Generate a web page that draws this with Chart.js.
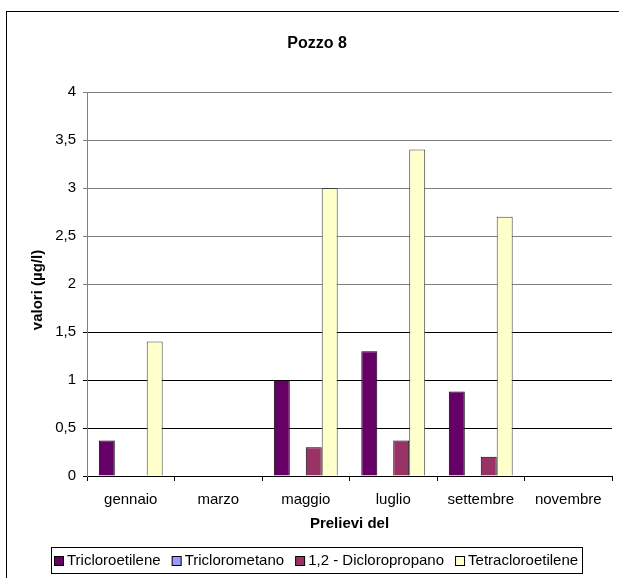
<!DOCTYPE html>
<html>
<head>
<meta charset="utf-8">
<script src="https://cdn.jsdelivr.net/npm/chart.js@4.4.0/dist/chart.umd.min.js"></script>
<style>
html,body{margin:0;padding:0;background:#fff;}
#wrap{width:619px;height:578px;position:relative;}
</style>
</head>
<body>
<div id="wrap"><canvas id="c" width="619" height="578"></canvas></div>
<script>
const categories = ['gennaio', 'marzo', 'maggio', 'luglio', 'settembre', 'novembre'];
const tricloroetilene = [0.37, null, 1.0, 1.3, 0.88, null];
const triclorometano = [null, null, null, null, null, null];
const dicloropropano = [null, null, 0.3, 0.37, 0.2, null];
const tetracloroetilene = [1.4, null, 3.0, 3.4, 2.7, null];
const seriesNames = ['Tricloroetilene', 'Triclorometano', '1,2 - Dicloropropano', 'Tetracloroetilene'];
const yTicks = [0, 0.5, 1, 1.5, 2, 2.5, 3, 3.5, 4];

const FONT = 'Arial, "Liberation Sans", sans-serif';
const FS = 15;

const overlay = {
  id: 'overlay',
  afterDraw(chart) {
    const ctx = chart.ctx;
    const ca = chart.chartArea;
    ctx.save();
    // outer border
    ctx.strokeStyle = '#000';
    ctx.lineWidth = 1;
    ctx.strokeRect(6.5, 11.5, 700, 700);
    // title
    ctx.fillStyle = '#000';
    ctx.font = 'bold 16px ' + FONT;
    ctx.textAlign = 'center';
    ctx.textBaseline = 'middle';
    ctx.fillText('Pozzo 8', 317, 44);
    ctx.font = 'bold ' + FS + 'px ' + FONT;
    // x title
    ctx.fillText('Prelievi del', (ca.left + ca.right) / 2, 524);
    // y title
    ctx.save();
    ctx.translate(38, 290);
    ctx.rotate(-Math.PI / 2);
    ctx.fillText('valori (\u00b5g/l)', 0, 0);
    ctx.restore();
    // legend
    ctx.font = FS + 'px ' + FONT;
    ctx.textAlign = 'left';
    const ds = chart.data.datasets;
    const sq = 9, gap1 = 4, gap2 = 11, padL = 3, padR = 4;
    let total = padL + padR;
    ds.forEach((d, i) => { total += sq + gap1 + ctx.measureText(d.label).width + (i < ds.length - 1 ? gap2 : 0); });
    total = Math.round(total);
    let x0 = Math.round(316 - total / 2);
    const yTop = 547, yH = 26, yc = yTop + yH / 2;
    ctx.strokeStyle = '#000';
    ctx.strokeRect(x0 + 0.5, yTop + 0.5, total, yH);
    let x = x0 + padL;
    ds.forEach((d, i) => {
      ctx.fillStyle = d.backgroundColor;
      ctx.fillRect(x + 0.5, Math.round(yc - sq / 2) + 0.5, sq, sq);
      ctx.strokeStyle = '#000';
      ctx.strokeRect(x + 0.5, Math.round(yc - sq / 2) + 0.5, sq, sq);
      x += sq + gap1;
      ctx.fillStyle = '#000';
      ctx.fillText(d.label, x, yc + 1);
      x += ctx.measureText(d.label).width + gap2;
    });
    ctx.restore();
  }
};

const colors = ['#660066', '#9999FF', '#993366', '#FFFFCC'];
const borders = ['#000000', '#000000', '#000000', '#404040'];
const values = [tricloroetilene, triclorometano, dicloropropano, tetracloroetilene];

new Chart(document.getElementById('c'), {
  type: 'bar',
  data: {
    labels: categories,
    datasets: seriesNames.map((n, i) => ({
      label: n,
      data: values[i],
      backgroundColor: colors[i],
      borderColor: borders[i],
      borderWidth: 1,
      categoryPercentage: 0.73,
      barPercentage: 1.0
    }))
  },
  options: {
    responsive: false,
    animation: false,
    devicePixelRatio: 1,
    layout: { padding: { top: 92, right: 7, left: 0, bottom: 0 } },
    plugins: {
      legend: { display: false },
      title: { display: false },
      tooltip: { enabled: false }
    },
    scales: {
      x: {
        afterFit: s => { s.height = 102; },
        grid: { display: true, drawOnChartArea: false, drawTicks: true, tickLength: 5, color: '#000', offset: true },
        border: { display: true, color: '#000', width: 1 },
        ticks: { color: '#000', font: { family: FONT, size: FS }, padding: 10, maxRotation: 0, autoSkip: false }
      },
      y: {
        min: 0, max: 4,
        afterFit: s => { s.width = 87; },
        afterBuildTicks: s => { s.ticks = yTicks.map(v => ({ value: v })); },
        grid: {
          color: ctx => (ctx.tick && ctx.tick.value >= 2 ? '#808080' : '#000'),
          tickLength: 4, drawTicks: true
        },
        border: { display: true, color: '#808080', width: 1 },
        ticks: {
          color: '#000', font: { family: FONT, size: FS }, padding: 7,
          callback: v => String(v).replace('.', ',')
        }
      }
    }
  },
  plugins: [overlay]
});
</script>
</body>
</html>
